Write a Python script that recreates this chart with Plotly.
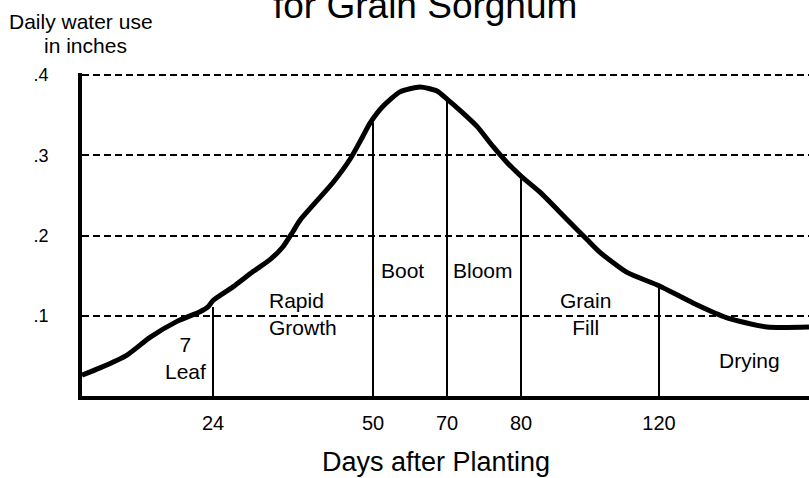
import plotly.graph_objects as go

# Schematic stage axis: x is position along the (non-linear) growth-stage axis
curve_x = [0, 18, 45, 68, 95, 118, 126, 131, 151, 171, 188, 201, 211, 218, 251, 268, 281, 288,
           301, 318, 338, 355, 365, 378, 395, 411, 425, 439, 458, 485, 505, 518, 545, 577,
           611, 645, 685, 727]
curve_y = [0.026, 0.035, 0.051, 0.073, 0.093, 0.105, 0.111, 0.119, 0.136, 0.155, 0.170, 0.186,
           0.205, 0.219, 0.266, 0.295, 0.324, 0.340, 0.361, 0.379, 0.385, 0.380, 0.370, 0.356,
           0.336, 0.311, 0.291, 0.274, 0.254, 0.220, 0.195, 0.179, 0.154, 0.1375, 0.116,
           0.0975, 0.086, 0.086]

stage_days = ["24", "50", "70", "80", "120"]
stage_x = [131, 291, 365, 439, 577]
stage_top = [0.111, 0.341, 0.370, 0.2725, 0.136]

stage_names = ["7<br>Leaf", "Rapid<br>Growth", "Boot", "Bloom", "Grain<br>Fill", "Drying"]
label_x = [103, 185, 320, 401, 503, 667]
label_y = [0.0475, 0.1025, 0.157, 0.157, 0.1025, 0.044]
label_anchor = ["center", "left", "center", "center", "center", "center"]

y_ticks = [0.1, 0.2, 0.3, 0.4]
y_labels = [".1", ".2", ".3", ".4"]

FONT = "Liberation Sans, Arial, sans-serif"
W, H = 809, 478
ML, MR, MT, MB = 82, 0, 73, 82
PW, PH = W - ML - MR, H - MT - MB
YMAX = 0.4025


def px_x(p):
    return (p - ML) / PW


def px_y(p):
    return (H - MB - p) / PH


# stage divider lines
lx, ly = [], []
for x, t in zip(stage_x, stage_top):
    lx += [x, x, None]
    ly += [0, t, None]

fig = go.Figure()
fig.add_trace(go.Scatter(x=lx, y=ly, mode="lines",
                         line=dict(color="black", width=2), hoverinfo="skip"))
fig.add_trace(go.Scatter(x=curve_x, y=curve_y, mode="lines",
                         line=dict(color="black", width=5, shape="spline", smoothing=0.6)))

annotations = []
for name, x, y, anc in zip(stage_names, label_x, label_y, label_anchor):
    annotations.append(dict(x=x, y=y, xref="x", yref="y", text=name, showarrow=False,
                            xanchor=anc, yanchor="middle", align=anc,
                            font=dict(size=21, color="black", family=FONT)))

annotations += [
    dict(x=px_x(425), y=px_y(5), xref="paper", yref="paper", text="for Grain Sorghum",
         showarrow=False, xanchor="center", yanchor="middle",
         font=dict(size=37, color="black", family=FONT)),
    dict(x=px_x(81), y=px_y(22), xref="paper", yref="paper", text="Daily water use",
         showarrow=False, xanchor="center", yanchor="middle",
         font=dict(size=21, color="black", family=FONT)),
    dict(x=px_x(85), y=px_y(46), xref="paper", yref="paper", text="in inches",
         showarrow=False, xanchor="center", yanchor="middle",
         font=dict(size=21, color="black", family=FONT)),
    dict(x=px_x(436), y=px_y(462), xref="paper", yref="paper", text="Days after Planting",
         showarrow=False, xanchor="center", yanchor="middle",
         font=dict(size=27, color="black", family=FONT)),
]

fig.update_layout(
    width=W, height=H,
    margin=dict(l=ML, r=MR, t=MT, b=MB),
    paper_bgcolor="white", plot_bgcolor="white",
    showlegend=False,
    font=dict(family=FONT, color="black"),
    annotations=annotations,
    xaxis=dict(range=[0, PW], showgrid=False, zeroline=False, showline=True,
               linewidth=4, linecolor="black", tickmode="array", tickvals=stage_x,
               ticktext=stage_days, ticks="", tickfont=dict(size=20),
               ticklabelstandoff=6, fixedrange=True, automargin=False),
    yaxis=dict(range=[0, YMAX], showgrid=True, gridcolor="black", gridwidth=2,
               griddash="7px,4px", zeroline=False, showline=True, linewidth=4,
               linecolor="black", tickmode="array", tickvals=y_ticks, ticktext=y_labels,
               ticks="", tickfont=dict(size=18), ticklabelstandoff=26, fixedrange=True,
               automargin=False),
)

fig.write_html("out.html", config={"displayModeBar": False},
               post_script="document.body.style.margin='0';document.body.style.overflow='hidden';")
